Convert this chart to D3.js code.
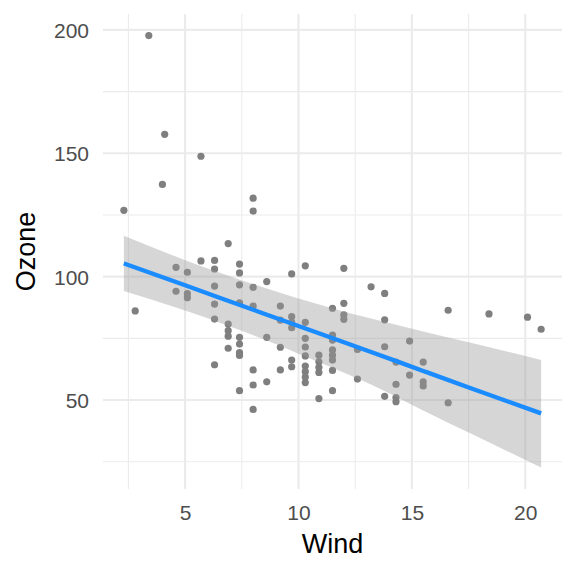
<!DOCTYPE html>
<html><head><meta charset="utf-8">
<script src="https://cdn.jsdelivr.net/npm/d3@7"></script>
<style>html,body{margin:0;padding:0;background:#fff;}svg{display:block;font-family:"Liberation Sans",Arial,sans-serif;}</style>
</head><body>
<svg id="c" width="576" height="576"></svg>
<script>
const wind = [2.3,2.8,3.4,4.0,4.1,4.6,4.6,5.1,5.1,5.1,5.7,5.7,
6.3,6.3,6.3,6.3,6.3,6.3,6.9,6.9,6.9,6.9,6.9,
7.4,7.4,7.4,7.4,7.4,7.4,7.4,7.4,7.4,
8.0,8.0,8.0,8.0,8.0,8.0,8.0,8.6,8.6,8.6,9.2,9.2,9.2,9.2,
9.7,9.7,9.7,9.7,9.7,9.7,
10.3,10.3,10.3,10.3,10.3,10.3,10.3,10.3,10.3,
10.9,10.9,10.9,10.9,10.9,
11.5,11.5,11.5,11.5,11.5,11.5,11.5,11.5,
12.0,12.0,12.0,12.0,12.6,12.6,13.2,13.8,13.8,13.8,13.8,
14.3,14.3,14.3,14.3,14.9,14.9,15.5,15.5,15.5,16.6,16.6,18.4,20.1,20.7];
const ozone = [126.9,86.1,197.7,137.4,157.7,103.8,94.1,101.8,93.1,91.5,148.8,106.4,
106.6,103.1,96.2,88.9,82.8,64.3,113.4,80.8,78.1,75.9,71.0,
105.1,101.5,96.7,89.4,75.4,72.7,69.2,68.1,53.8,
131.8,126.6,95.7,88.1,62.2,56.1,46.2,98.0,75.4,57.4,88.1,82.4,71.4,62.2,
101.1,83.8,81.5,79.3,66.2,63.5,
104.4,81.5,75.0,71.5,67.9,63.8,61.5,59.3,57.1,
68.2,65.5,63.3,61.2,50.6,
87.2,76.3,74.3,70.3,68.2,66.2,62.0,53.8,
103.4,89.2,84.5,82.7,70.5,58.5,95.9,93.2,82.5,71.6,51.5,
65.4,56.4,51.0,49.3,73.9,60.1,65.4,57.4,55.7,86.4,48.9,84.9,83.6,78.7];
// fitted trend line and its confidence band
const smoothWind = [2.3, 5, 8.3, 10, 13.2, 15.5, 17.6, 20.7];
const smoothFit  = [105.4, 96.5, 85.6, 80.0, 69.5, 61.8, 54.8, 44.6];
const smoothHi   = [116.6, 106.7, 96.1, 91.2, 83.0, 77.8, 73.2, 66.2];
const smoothLo   = [94.2, 86.3, 75.2, 68.8, 56.3, 45.8, 36.4, 22.7];
const xTicks = [5,10,15,20];
const yTicks = [50,100,150,200];
const xLabel = "Wind", yLabel = "Ozone";

const n = wind.length;
const band = smoothWind.map((w,i)=>({x:w, y:smoothFit[i], lo:smoothLo[i], hi:smoothHi[i]}));
const [xmin,xmax] = d3.extent(wind);
const ylo = Math.min(d3.min(ozone), d3.min(smoothLo));
const yhi = Math.max(d3.max(ozone), d3.max(smoothHi));
const xr = xmax-xmin, yr = yhi-ylo;
const L=103, R=562, T=14, B=489;
const x = d3.scaleLinear().domain([xmin-0.05*xr, xmax+0.05*xr]).range([L,R]);
const y = d3.scaleLinear().domain([ylo-0.05*yr, yhi+0.05*yr]).range([B,T]);

const svg = d3.select("#c");
const g = svg.append("g");
// grid
const xMinor = d3.range(2.5, 25, 5).filter(v=>x(v)>=L&&x(v)<=R);
const yMinor = d3.range(25, 225, 50).filter(v=>y(v)>=T&&y(v)<=B);
g.selectAll(".xm").data(xMinor).join("line").attr("x1",d=>x(d)).attr("x2",d=>x(d)).attr("y1",T).attr("y2",B).attr("stroke","#ebebeb").attr("stroke-width",1.1);
g.selectAll(".ym").data(yMinor).join("line").attr("y1",d=>y(d)).attr("y2",d=>y(d)).attr("x1",L).attr("x2",R).attr("stroke","#ebebeb").attr("stroke-width",1.1);
g.selectAll(".xM").data(xTicks).join("line").attr("x1",d=>x(d)).attr("x2",d=>x(d)).attr("y1",T).attr("y2",B).attr("stroke","#ebebeb").attr("stroke-width",2.1);
g.selectAll(".yM").data(yTicks).join("line").attr("y1",d=>y(d)).attr("y2",d=>y(d)).attr("x1",L).attr("x2",R).attr("stroke","#ebebeb").attr("stroke-width",2.1);

// points
g.selectAll("circle").data(d3.range(n)).join("circle")
 .attr("cx",i=>x(wind[i])).attr("cy",i=>y(ozone[i])).attr("r",3.6).attr("fill","#7f7f7f");

// ribbon & line
g.append("path").datum(band).attr("d",d3.area().curve(d3.curveMonotoneX).x(d=>x(d.x)).y0(d=>y(d.lo)).y1(d=>y(d.hi)))
 .attr("fill","#999999").attr("fill-opacity",0.4);
g.append("path").datum(band).attr("d",d3.line().curve(d3.curveMonotoneX).x(d=>x(d.x)).y(d=>y(d.y)))
 .attr("fill","none").attr("stroke","#1a8cff").attr("stroke-width",4.3);

// axes
const xa = d3.axisBottom(x).tickValues(xTicks).tickSize(0).tickPadding(0);
const xg = svg.append("g").attr("transform",`translate(0,${B})`).call(xa);
xg.select(".domain").remove();
xg.selectAll("text").attr("font-size",21).attr("fill","#4d4d4d").attr("dy",null).attr("y",31).attr("font-family","Liberation Sans, Arial, sans-serif");
const ya = d3.axisLeft(y).tickValues(yTicks).tickSize(0).tickPadding(0);
const yg = svg.append("g").attr("transform",`translate(${L-14},0)`).call(ya);
yg.select(".domain").remove();
yg.selectAll("text").attr("font-size",21).attr("fill","#4d4d4d").attr("x",0).attr("dy","0.36em").attr("font-family","Liberation Sans, Arial, sans-serif");

svg.append("text").attr("x",(L+R)/2).attr("y",553).attr("text-anchor","middle").attr("font-size",27).attr("fill","#000").text(xLabel);
svg.append("text").attr("transform",`translate(35,${(T+B)/2}) rotate(-90)`).attr("text-anchor","middle").attr("font-size",27).attr("fill","#000").text(yLabel);
</script>
</body></html>
